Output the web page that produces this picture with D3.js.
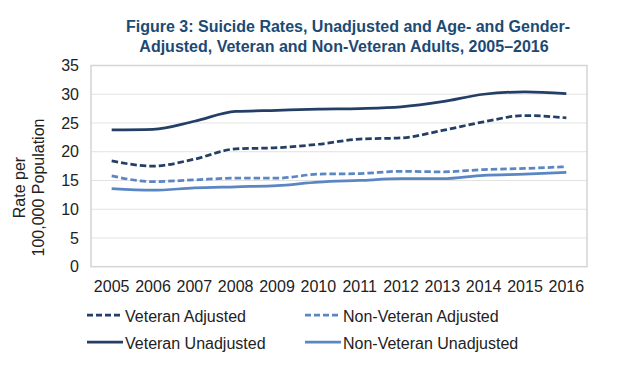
<!DOCTYPE html>
<html><head><meta charset="utf-8">
<script src="https://cdn.jsdelivr.net/npm/d3@7"></script>
<style>body{margin:0;background:#fff}svg{display:block}text{font-family:"Liberation Sans",Arial,sans-serif}</style>
</head><body><svg id="c" width="630" height="367"></svg>
<script>
const years = ["2005","2006","2007","2008","2009","2010","2011","2012","2013","2014","2015","2016"];
const veteranAdjusted    = [18.4,17.5,18.7,20.5,20.7,21.3,22.2,22.4,23.7,25.2,26.3,25.9];
const nonVeteranAdjusted = [15.8,14.8,15.1,15.4,15.4,16.1,16.2,16.6,16.5,16.9,17.1,17.4];
const veteranUnadjusted  = [23.8,23.9,25.3,27.0,27.2,27.4,27.5,27.8,28.7,30.0,30.4,30.1];
const nonVeteranUnadjusted=[13.6,13.3,13.7,13.9,14.1,14.7,15.0,15.3,15.3,15.9,16.1,16.4];
const yTicks = [0,5,10,15,20,25,30,35];
const titleLines = ["Figure 3: Suicide Rates, Unadjusted and Age- and Gender-","Adjusted, Veteran and Non-Veteran Adults, 2005\u20132016"];
const yLabelLines = ["Rate per","100,000 Population"];

const dark = "#243f66", light = "#5b86c4";
const series = [
  {name:"Veteran Adjusted", values:veteranAdjusted, color:dark, dash:true},
  {name:"Non-Veteran Adjusted", values:nonVeteranAdjusted, color:light, dash:true},
  {name:"Veteran Unadjusted", values:veteranUnadjusted, color:dark, dash:false},
  {name:"Non-Veteran Unadjusted", values:nonVeteranUnadjusted, color:light, dash:false}
];

const svg = d3.select("#c");
const L=91, R=587, T=65.5, B=266.7;
const x = d3.scaleBand().domain(years).range([L,R]);
const y = d3.scaleLinear().domain([0,35]).range([B,T]);

// title
svg.append("g").selectAll("text").data(titleLines).join("text")
  .attr("x",(d,i)=>i===0?348:344).attr("y",(d,i)=>32+i*20).attr("text-anchor","middle")
  .attr("font-size",16).attr("font-weight","bold").attr("fill","#1c4a74").text(d=>d);

// grid
svg.append("g").selectAll("line").data(yTicks.slice(1)).join("line")
  .attr("x1",L).attr("x2",R).attr("y1",d=>y(d)).attr("y2",d=>y(d))
  .attr("stroke","#e2e2e2").attr("stroke-width",1);
svg.append("rect").attr("x",L).attr("y",T).attr("width",R-L).attr("height",B-T)
  .attr("fill","none").attr("stroke","#d4d4d4").attr("stroke-width",1.5);

// y axis
const ya = svg.append("g").attr("transform",`translate(${79},0)`)
  .call(d3.axisLeft(y).tickValues(yTicks).tickSize(0).tickPadding(0));
ya.select(".domain").remove();
ya.selectAll("text").attr("font-size",16).attr("fill","#222").style("font-family","Liberation Sans, Arial, sans-serif");

// x axis
const xa = svg.append("g").attr("transform",`translate(0,292)`)
  .call(d3.axisBottom(x).tickSize(0));
xa.select(".domain").remove();
xa.selectAll("text").attr("y",0).attr("dy",0).attr("font-size",16).attr("fill","#222").style("font-family","Liberation Sans, Arial, sans-serif");

// y label
svg.append("g").attr("transform","translate(0,187.5) rotate(-90)")
  .selectAll("text").data(yLabelLines).join("text")
  .attr("x",0).attr("y",(d,i)=>25+i*19).attr("text-anchor","middle")
  .attr("font-size",16).attr("fill","#222").text(d=>d);

// lines
const line = d3.line().x((d,i)=>x(years[i])+x.bandwidth()/2).y(d=>y(d)).curve(d3.curveMonotoneX);
svg.append("g").selectAll("path").data(series).join("path")
  .attr("d",d=>line(d.values)).attr("fill","none").attr("stroke",d=>d.color)
  .attr("stroke-width",2.75).attr("stroke-dasharray",d=>d.dash?"6.5,3":null);

// legend
const lg = svg.append("g").selectAll("g").data(series).join("g")
  .attr("transform",(d,i)=>`translate(${i%2===0?87:305},${315+Math.floor(i/2)*27})`);
lg.append("line").attr("x1",0).attr("x2",36).attr("y1",0).attr("y2",0)
  .attr("stroke",d=>d.color).attr("stroke-width",2.75).attr("stroke-dasharray",d=>d.dash?"6,3":null);
lg.append("text").attr("x",38).attr("y",7).attr("font-size",16).attr("fill","#222").text(d=>d.name);
</script></body></html>
